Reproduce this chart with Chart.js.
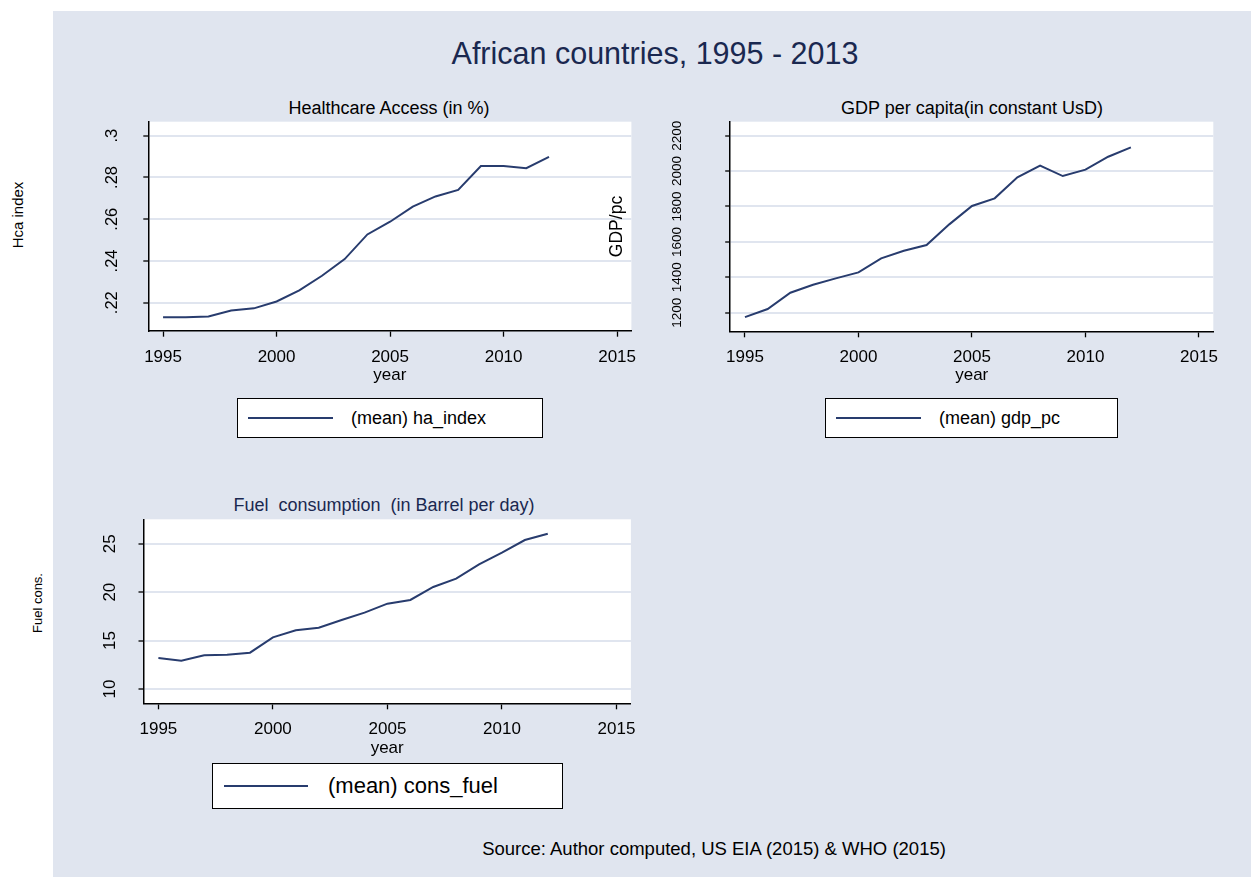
<!DOCTYPE html>
<html>
<head>
<meta charset="utf-8">
<script src="https://cdn.jsdelivr.net/npm/chart.js@4.4.1/dist/chart.umd.min.js"></script>
<style>
body { margin: 0; width: 1251px; height: 877px; background: #fff; position: relative; overflow: hidden;
       font-family: "Liberation Sans", Arial, sans-serif; }
#bg { position: absolute; left: 53px; top: 11px; right: 0; bottom: 0; background: #e0e5ef; }
canvas { position: absolute; }
.txt { position: absolute; white-space: nowrap; line-height: 1; transform: translate(-50%, -50%); }
.rot { transform: translate(-50%, -50%) rotate(-90deg); }
.legend { position: absolute; box-sizing: border-box; background: #fff; border: 1.5px solid #000; }
.legend .ln { position: absolute; height: 2px; background: #283c6e; }
.legend .lt { position: absolute; white-space: nowrap; line-height: 1; transform: translateY(-50%); color: #000; }
</style>
</head>
<body>
<div id="bg"></div>

<div class="txt" style="left:655px;top:53px;font-size:30.5px;color:#1a2850">African countries, 1995 - 2013</div>

<div class="txt rot" style="left:17px;top:215px;font-size:15px">Hca index</div>
<div class="txt rot" style="left:37px;top:603px;font-size:13px">Fuel cons.</div>

<div class="txt" style="left:389px;top:108px;font-size:18px">Healthcare Access (in %)</div>
<div class="txt" style="left:972px;top:108px;font-size:18px">GDP per capita(in constant UsD)</div>
<div class="txt" style="left:384px;top:505px;font-size:18px;color:#1a2850">Fuel&nbsp; consumption&nbsp; (in Barrel per day)</div>

<canvas id="c1" width="610" height="279" style="left:40px;top:112px"></canvas>
<canvas id="c2" width="651" height="279" style="left:600px;top:112px"></canvas>
<canvas id="c3" width="610" height="259" style="left:40px;top:505px"></canvas>

<div class="legend" style="left:237px;top:398px;width:306px;height:40px">
  <div class="ln" style="left:10px;width:85px;top:18px"></div>
  <span class="lt" style="left:113px;top:19px;font-size:18px">(mean) ha_index</span>
</div>
<div class="legend" style="left:825px;top:398px;width:293px;height:40px">
  <div class="ln" style="left:10px;width:85px;top:18px"></div>
  <span class="lt" style="left:113px;top:19px;font-size:18px">(mean) gdp_pc</span>
</div>
<div class="legend" style="left:212px;top:763px;width:351px;height:46px">
  <div class="ln" style="left:11px;width:84px;top:21px"></div>
  <span class="lt" style="left:115px;top:22px;font-size:22px">(mean) cons_fuel</span>
</div>

<div class="txt" style="left:714px;top:849px;font-size:18.5px">Source: Author computed, US EIA (2015) &amp; WHO (2015)</div>

<script>
// values
const years = [1995, 1996, 1997, 1998, 1999, 2000, 2001, 2002, 2003, 2004, 2005, 2006, 2007, 2008, 2009, 2010, 2011, 2012];
const haIndex = [0.2130, 0.2130, 0.2134, 0.2163, 0.2173, 0.2206, 0.2259, 0.2329, 0.2409, 0.2527, 0.2588, 0.2660, 0.2709, 0.2740, 0.2855, 0.2855, 0.2844, 0.2899];
const gdpPc = [1175, 1221, 1313, 1358, 1394, 1428, 1507, 1550, 1582, 1699, 1803, 1846, 1965, 2031, 1972, 2008, 2081, 2134];
const consFuel = [13.20, 12.92, 13.47, 13.54, 13.75, 15.33, 16.06, 16.33, 17.12, 17.88, 18.81, 19.19, 20.53, 21.39, 22.87, 24.07, 25.38, 26.03];

const yearTicks = [1995, 2000, 2005, 2010, 2015];
const haTicks = [0.22, 0.24, 0.26, 0.28, 0.3];
const gdpTicks = [1200, 1400, 1600, 1800, 2000, 2200];
const fuelTicks = [10, 15, 20, 25];

const FONT = '"Liberation Sans", Arial, sans-serif';
const NAVY = '#283c6e';
const GRID = '#e0e5ef';

// white plot region
const plotBg = {
    id: 'plotBg',
    beforeDraw(chart) {
        const a = chart.chartArea;
        chart.ctx.save();
        chart.ctx.fillStyle = '#fff';
        chart.ctx.fillRect(a.left, a.top, a.right - a.left, a.bottom - a.top);
        chart.ctx.restore();
    }
};

function makePanel(id, cfg) {
    const cv = document.getElementById(id);
    const W = cv.width, H = cv.height;
    const a = cfg.area;
    return new Chart(cv, {
        type: 'line',
        data: {
            datasets: [{
                data: years.map((y, i) => ({ x: y, y: cfg.values[i] })),
                borderColor: NAVY,
                borderWidth: 2,
                pointRadius: 0,
                tension: 0,
                fill: false
            }]
        },
        options: {
            responsive: false,
            animation: false,
            events: [],
            layout: { padding: { left: 0, top: a.t, right: W - a.r, bottom: 0 } },
            plugins: { legend: { display: false }, tooltip: { enabled: false }, title: { display: false } },
            scales: {
                x: {
                    type: 'linear',
                    min: 1994.35,
                    max: 2015.63,
                    afterBuildTicks: s => { s.ticks = yearTicks.map(v => ({ value: v })); },
                    afterFit: s => { s.height = H - a.b; s.paddingLeft = 0; s.paddingRight = 0; },
                    grid: { drawOnChartArea: false, drawTicks: true, tickLength: 6, tickColor: '#000', tickWidth: 1.3 },
                    border: { display: true, color: '#000', width: 1.5 },
                    ticks: { color: '#000', font: { family: FONT, size: 17 }, padding: 10, maxRotation: 0, autoSkip: false,
                             callback: v => String(v) },
                    title: { display: true, text: 'year', color: '#000', font: { family: FONT, size: 17 },
                             padding: { top: 0, bottom: 5 } }
                },
                y: {
                    type: 'linear',
                    min: cfg.yMin,
                    max: cfg.yMax,
                    afterBuildTicks: s => { s.ticks = cfg.yTicks.map(v => ({ value: v })); },
                    afterFit: s => { s.width = a.l; s.paddingTop = 0; s.paddingBottom = 0; },
                    grid: { color: GRID, lineWidth: 2, drawTicks: true, tickLength: 5, tickColor: '#000', tickWidth: 1.3 },
                    border: { display: true, color: '#000', width: 1.5 },
                    ticks: { color: '#000', font: { family: FONT, size: cfg.yFont }, padding: cfg.yPad,
                             minRotation: 90, maxRotation: 90, crossAlign: 'center', autoSkip: false,
                             callback: cfg.fmt },
                    title: cfg.yTitle ? { display: true, text: cfg.yTitle, color: '#000',
                                          font: { family: FONT, size: 17.5 }, padding: { top: 6.4, bottom: 0 } }
                                      : { display: false }
                }
            }
        },
        plugins: [plotBg]
    });
}

makePanel('c1', {
    values: haIndex, yTicks: haTicks, yMin: 0.2066, yMax: 0.3067,
    area: { l: 108.3, r: 591.4, t: 9.7, b: 218.7 },
    yFont: 16.5, yPad: 19, fmt: v => String(v).replace(/^0\./, '.')
});
makePanel('c2', {
    values: gdpPc, yTicks: gdpTicks, yMin: 1095, yMax: 2279,
    area: { l: 130.2, r: 613.3, t: 9.7, b: 219.3 },
    yFont: 13.5, yPad: 33, fmt: v => String(v), yTitle: 'GDP/pc'
});
makePanel('c3', {
    values: consFuel, yTicks: fuelTicks, yMin: 8.52, yMax: 27.52,
    area: { l: 103.5, r: 590.9, t: 14.3, b: 198.3 },
    yFont: 17, yPad: 19, fmt: v => String(v)
});
</script>
</body>
</html>
